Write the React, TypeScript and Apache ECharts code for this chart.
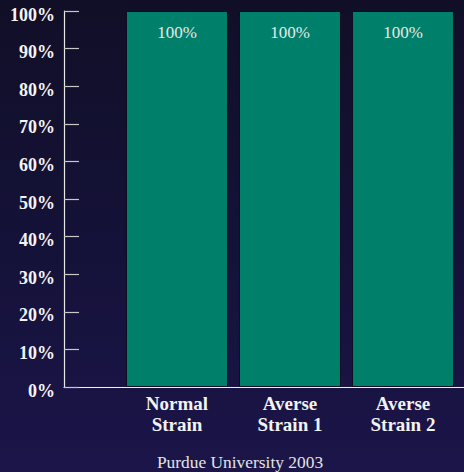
import React, { useEffect, useRef } from "react";
import * as echarts from "echarts";

const categories = ["Normal\nStrain", "Averse\nStrain 1", "Averse\nStrain 2"];
const values = [100, 100, 100];
const yTickStep = 10;
const footer = "Purdue University 2003";

export default function App() {
  const ref = useRef<HTMLDivElement>(null);
  useEffect(() => {
    const chart = echarts.init(ref.current!, null, { renderer: "svg" });
    chart.setOption({
      animation: false,
      backgroundColor: "transparent",
      grid: { left: 64, right: 0, top: 11, bottom: 85, containLabel: false },
      xAxis: {
        type: "value",
        min: -1,
        max: 2.54,
        interval: 1,
        axisLine: { show: true, onZero: false, lineStyle: { color: "#f0f0f0", width: 1.2 } },
        axisTick: { show: false },
        splitLine: { show: false },
        axisLabel: {
          show: true,
          margin: 6,
          color: "#f2f2f2",
          fontFamily: "Liberation Serif",
          fontWeight: "bold",
          fontSize: 19,
          lineHeight: 21,
          showMinLabel: true,
          showMaxLabel: false,
          formatter: (v: number) => {
            const i = Math.round(v);
            return Math.abs(v - i) < 1e-6 && i >= 0 && i < categories.length ? categories[i] : "";
          },
        },
      },
      yAxis: {
        type: "value",
        min: 0,
        max: 100,
        interval: yTickStep,
        axisLine: { show: true, onZero: false, lineStyle: { color: "#e8e8e8", width: 1.2 } },
        axisTick: { show: true, inside: true, length: 15, lineStyle: { color: "#c8c8c8", width: 1.2 } },
        splitLine: { show: false },
        axisLabel: {
          margin: 9,
          color: "#f4f4f4",
          fontFamily: "Liberation Serif",
          fontWeight: "bold",
          fontSize: 18,
          verticalAlign: "top",
          lineHeight: 7,
          formatter: "{value}%",
        },
      },
      series: [
        {
          type: "bar",
          barWidth: 102,
          data: values.map((v, i) => [i, v]),
          itemStyle: { color: "#00806a", borderColor: "#0d0c22", borderWidth: 1 },
          label: {
            show: true,
            position: "insideTop",
            distance: 13,
            color: "#e8e8e8",
            fontFamily: "Liberation Serif",
            fontSize: 17,
            formatter: (p: any) => p.value[1] + "%",
          },
        },
      ],
      graphic: [
        {
          type: "text",
          x: 240,
          y: 462,
          style: {
            text: footer,
            fill: "#e4e4e4",
            font: "17.4px 'Liberation Serif'",
            textAlign: "center",
            textVerticalAlign: "middle",
          },
        },
      ],
    });
    return () => chart.dispose();
  }, []);
  return (
    <div
      style={{
        position: "absolute",
        left: 0,
        top: 0,
        width: 464,
        height: 472,
        background: "linear-gradient(180deg, #110f27 0%, #15123a 55%, #1b1549 100%)",
      }}
    >
      <div ref={ref} style={{ width: 464, height: 472 }} />
    </div>
  );
}
